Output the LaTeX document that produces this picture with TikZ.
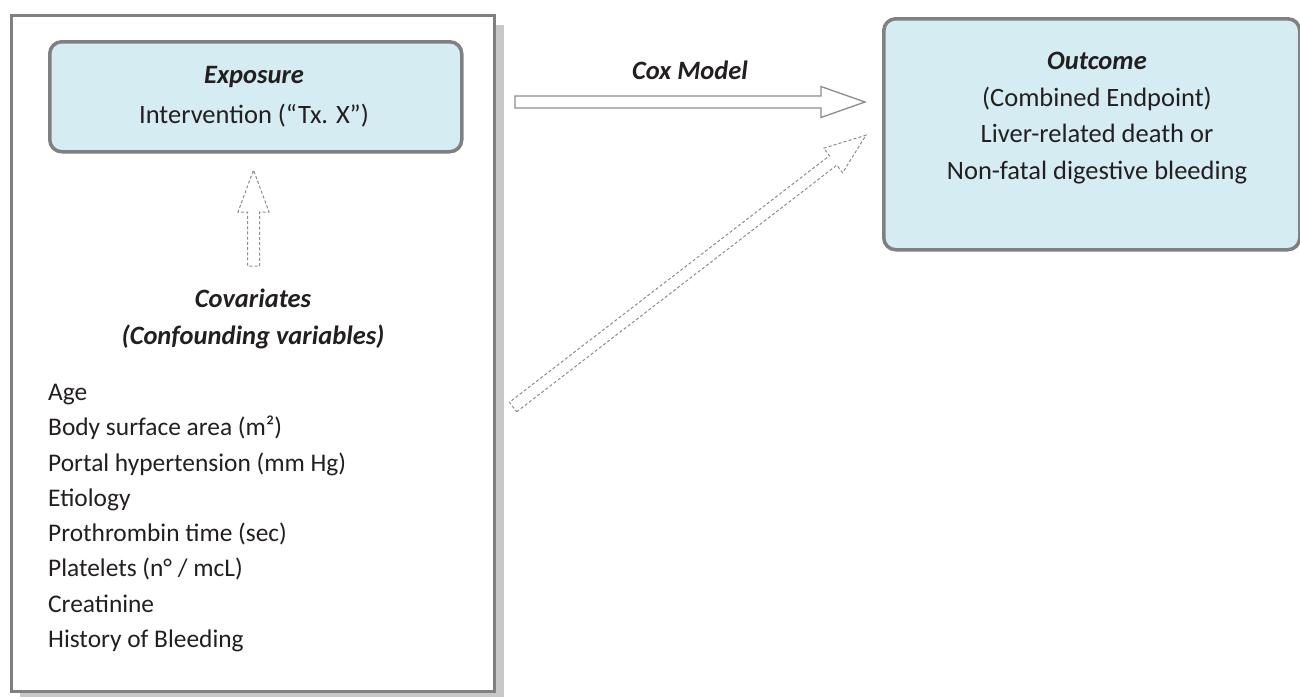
\documentclass[tikz,border=0pt]{standalone}
\usepackage{fontspec}
\setmainfont{Carlito}
\definecolor{boxgray}{HTML}{808080}
\definecolor{shadowgray}{HTML}{C8C8CA}
\definecolor{lightblue}{HTML}{D5ECF3}
\definecolor{arrgray}{HTML}{8C8C8C}
\definecolor{txt}{HTML}{231F20}
\newcommand\blkarrow[5]{%
\begin{scope}[shift={#2},rotate=#3]
\draw[#1] (0,-6) -- ({#4-#5},-6) -- ({#4-#5},-15.5) -- (#4,0) -- ({#4-#5},15.5) -- ({#4-#5},6) -- (0,6) -- cycle;
\end{scope}}
\begin{document}
\begin{tikzpicture}[x=1pt,y=1pt,
  outerbox/.style={draw=boxgray, line width=3, fill=white, inner sep=0, anchor=north west},
  bluebox/.style={draw=boxgray, line width=3.5, fill=lightblue, rounded corners=12, inner sep=0, anchor=north west},
  body/.style={text=txt, font=\fontsize{26.5}{39}\selectfont, align=center, inner sep=0},
  title/.style={text=txt, font=\fontsize{26.5}{39}\selectfont\bfseries\itshape, inner sep=0},
  solidarrow/.style={draw=arrgray, fill=white, line width=1.3},
  dasharrow/.style={draw=arrgray, line width=1, dash pattern=on 3pt off 2.2pt}]
\useasboundingbox (0,0) rectangle (1300,-697);
% shadow and covariate frame
\fill[shadowgray] (20,-25) rectangle (504,-697);
\node[outerbox, minimum width=483, minimum height=676] (cov) at (10,-14) {};
% exposure box
\node[bluebox, minimum width=412, minimum height=110] (exp) at (48,-40) {};
\node[title] (exptitle) at (254,-77) {Exposure};
\node[body] (exptext) at (254,-116) {Intervention (“Tx. X”)};
% covariates title
\node[text=txt, font=\fontsize{26.5}{37}\selectfont\bfseries\itshape, align=center, inner sep=0] (covtitle) at (253,-318.5) {Covariates\\(Confounding variables)};
% list
\node[text=txt, font=\fontsize{25.4}{35.3}\selectfont, align=left, inner sep=0, anchor=west] (covlist) at (48,-518) {Age\\Body surface area (m²)\\Portal hypertension (mm Hg)\\Etiology\\Prothrombin time (sec)\\Platelets (n° / mcL)\\Creatinine\\History of Bleeding};
% outcome box
\node[bluebox, minimum width=416, minimum height=231] (out) at (882,-17) {};
\node[body, font=\fontsize{26.5}{36.7}\selectfont] (outtext) at (1097,-118) {\textbf{\textit{Outcome}}\\(Combined Endpoint)\\Liver-related death or\\Non-fatal digestive bleeding};
% cox model
\node[title] (coxlabel) at (690,-70) {Cox Model};
\blkarrow{solidarrow}{(515,-102)}{0}{350}{44}
\blkarrow{dasharrow}{(513,-407)}{37.6}{445.6}{41.5}
\blkarrow{dasharrow}{(253.5,-266)}{90}{96}{42}
\end{tikzpicture}
\end{document}
